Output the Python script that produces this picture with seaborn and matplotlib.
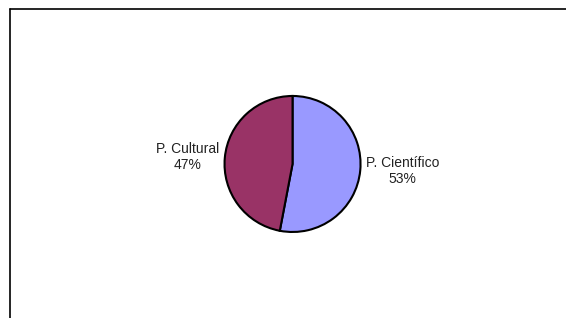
# Pie chart: P. Científico vs P. Cultural
import matplotlib
matplotlib.use('Agg')
import matplotlib.pyplot as plt
from matplotlib.lines import Line2D
import seaborn as sns

# Data
categories = ['P. Científico', 'P. Cultural']
percentages = [53, 47]
colors = ['#9999FF', '#993366']

sns.set_style('white')
plt.rcParams['font.family'] = ['Liberation Sans', 'DejaVu Sans']

fig = plt.figure(figsize=(5.66, 3.18), dpi=100)
fig.patch.set_facecolor('white')

# square axes holding the pie, centred around (292, 164) px
ax = fig.add_axes([0.3967, 0.2705, 0.2403, 0.4277])

labels = [f'{c}\n{p}%' for c, p in zip(categories, percentages)]
wedges, texts = ax.pie(
    percentages,
    labels=labels,
    colors=colors,
    startangle=90,
    counterclock=False,
    labeldistance=1.08,
    wedgeprops=dict(edgecolor='black', linewidth=1.5),
    textprops=dict(fontsize=10, color='#222222', multialignment='center', linespacing=1.25),
)
ax.set_xlim(-1, 1)
ax.set_ylim(-1, 1)
ax.set_aspect('equal')

# chart area border (only top and left edges fall inside the image)
fig.add_artist(Line2D([9.5 / 566, 1.0], [1 - 8.5 / 318] * 2, color='black', lw=1.2,
                      transform=fig.transFigure))
fig.add_artist(Line2D([9.5 / 566] * 2, [0.0, 1 - 8.5 / 318], color='black', lw=1.2,
                      transform=fig.transFigure))

fig.savefig('out.png', dpi=100)
